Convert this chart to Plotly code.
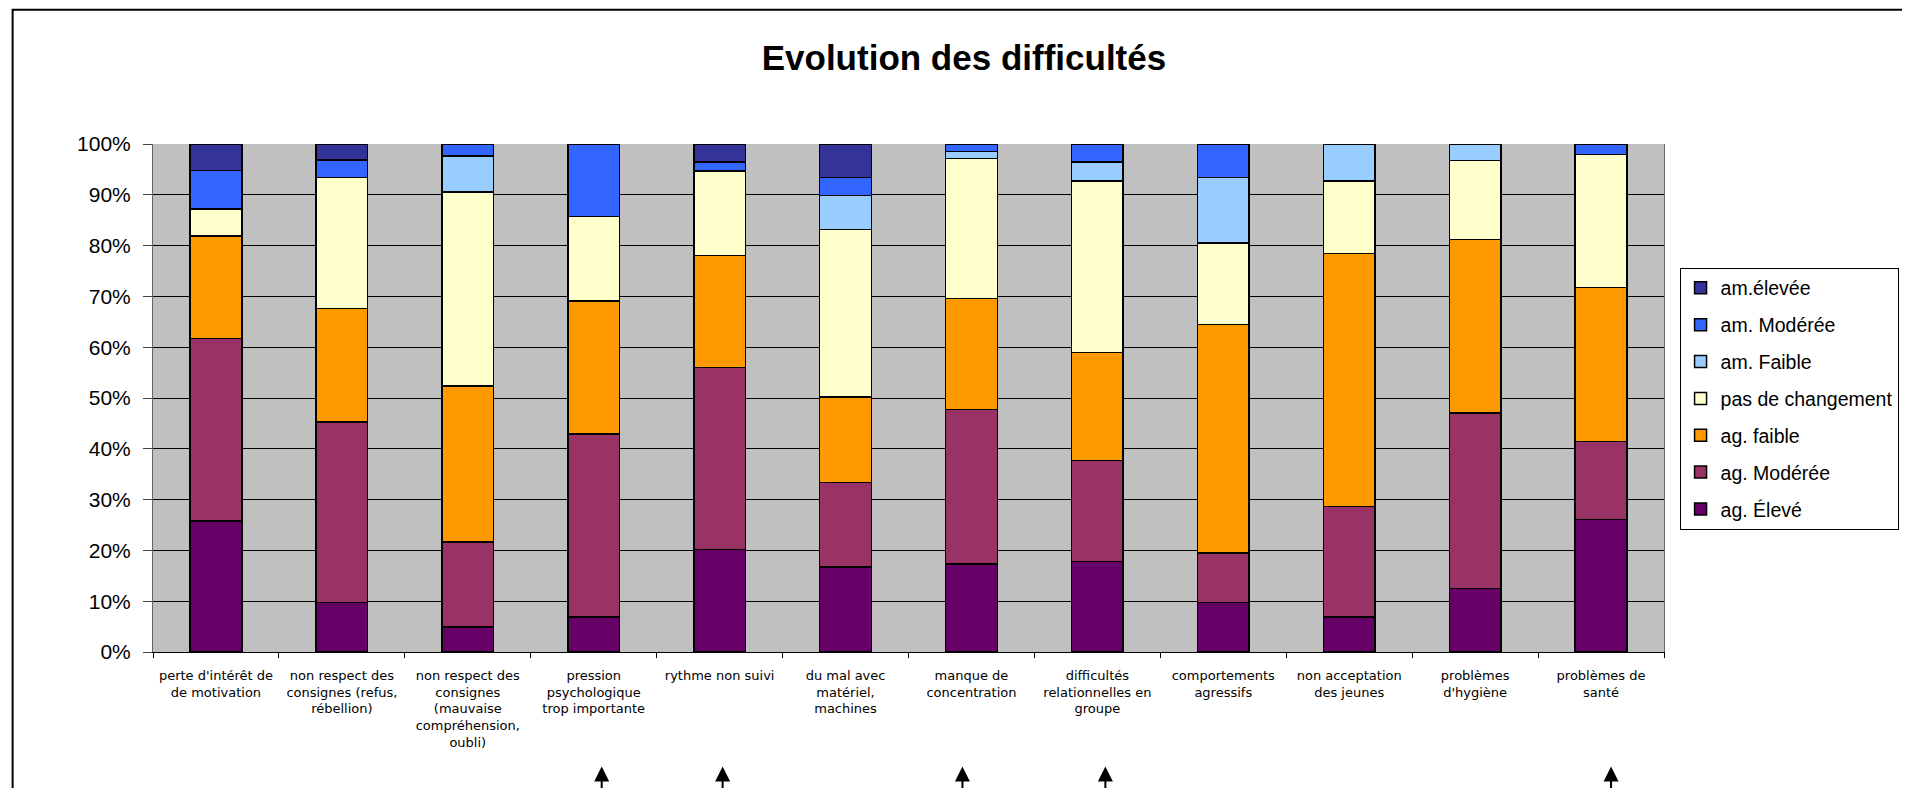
import plotly.graph_objects as go

categories = [
    "perte d'intérêt de<br>de motivation",
    "non respect des<br>consignes (refus,<br>rébellion)",
    "non respect des<br>consignes<br>(mauvaise<br>compréhension,<br>oubli)",
    "pression<br>psychologique<br>trop importante",
    "rythme non suivi",
    "du mal avec<br>matériel,<br>machines",
    "manque de<br>concentration",
    "difficultés<br>relationnelles en<br>groupe",
    "comportements<br>agressifs",
    "non acceptation<br>des jeunes",
    "problèmes<br>d'hygiène",
    "problèmes de<br>santé",
]

ag_eleve = [25.8, 9.7, 4.9, 6.9, 20.2, 16.7, 17.4, 17.8, 9.7, 6.9, 12.5, 26.1]
ag_moderee = [35.9, 35.6, 16.8, 36.0, 35.8, 16.7, 30.4, 19.9, 9.8, 21.7, 34.5, 15.3]
ag_faible = [20.2, 22.3, 30.7, 26.1, 22.1, 16.8, 21.9, 21.2, 45.0, 49.8, 34.2, 30.4]
pas_de_changement = [5.3, 25.8, 38.2, 16.6, 16.6, 33.0, 27.6, 33.7, 16.0, 14.3, 15.6, 26.1]
am_faible = [0, 0, 7.1, 0, 0, 6.7, 1.4, 3.8, 12.9, 7.3, 3.2, 0]
am_moderee = [7.6, 3.5, 2.4, 14.3, 1.8, 3.5, 1.5, 3.5, 6.6, 0, 0, 2.1]
am_elevee = [5.2, 3.1, 0, 0, 3.5, 6.6, 0, 0, 0, 0, 0, 0]

series_names = ["ag. Élevé", "ag. Modérée", "ag. faible", "pas de changement",
                "am. Faible", "am. Modérée", "am.élevée"]
series_values = [ag_eleve, ag_moderee, ag_faible, pas_de_changement,
                 am_faible, am_moderee, am_elevee]
series_colors = ["#660066", "#993366", "#FF9900", "#FFFFCC",
                 "#99CCFF", "#3366FF", "#333399"]

y_ticks = [0, 10, 20, 30, 40, 50, 60, 70, 80, 90, 100]
y_tick_labels = ["0%", "10%", "20%", "30%", "40%", "50%",
                 "60%", "70%", "80%", "90%", "100%"]

# arrows drawn below some categories (category index, small horizontal shift in px)
arrow_categories = [3, 4, 6, 7, 11]
arrow_shifts = [8, 3, -9, 8, 10]

FONT = "Liberation Sans, Arial, sans-serif"
XFONT = "DejaVu Sans, Liberation Sans, sans-serif"

fig = go.Figure()
n = len(series_names)
for i, (name, vals, col) in enumerate(zip(series_names, series_values, series_colors)):
    fig.add_trace(go.Bar(
        x=categories, y=vals, name=name, legendgroup=name, legendrank=n - i,
        marker=dict(color=col, line=dict(color="black", width=1.5)),
    ))

annotations = []
for idx, sh in zip(arrow_categories, arrow_shifts):
    annotations.append(dict(
        x=categories[idx], xref="x", y=-0.2256, yref="paper", xshift=sh,
        text="", showarrow=True, ax=0, ay=40, axref="pixel", ayref="pixel",
        arrowhead=2, arrowsize=1.5, arrowwidth=2, arrowcolor="black",
        standoff=0,
    ))

fig.update_layout(
    width=1910, height=788,
    barmode="stack", barnorm="percent", bargap=0.59,
    paper_bgcolor="white", plot_bgcolor="#C0C0C0",
    margin=dict(l=144.5, r=253.5, t=135.5, b=144, pad=0, autoexpand=False),
    font=dict(family=FONT, color="black", size=14),
    title=dict(text="<b>Evolution des difficultés</b>", xref="container", x=0.5005,
               xanchor="center", yref="container", y=0.9366, yanchor="middle",
               font=dict(family=FONT, size=35, color="black")),
    legend=dict(x=1.0103, xanchor="left", y=0.7565, yanchor="top",
                bgcolor="white", bordercolor="black", borderwidth=1,
                font=dict(family=FONT, size=19.5, color="black"),
                traceorder="grouped", tracegroupgap=8.5),
    xaxis=dict(type="category", showgrid=False, showline=True, linecolor="black",
               linewidth=1, ticks="outside", tickson="boundaries", ticklen=5,
               tickcolor="black", tickangle=0, automargin=False,
               ticklabelstandoff=11,
               tickfont=dict(family=XFONT, size=13, color="black")),
    yaxis=dict(range=[0, 100], tickvals=y_ticks, ticktext=y_tick_labels, showgrid=True,
               gridcolor="black", gridwidth=1, showline=True, linecolor="#666666",
               linewidth=1, mirror=True, ticks="outside", ticklen=9, tickcolor="#444444",
               ticklabelstandoff=8, zeroline=False, automargin=False,
               tickfont=dict(family=FONT, size=21, color="black")),
    annotations=annotations,
    shapes=[dict(type="rect", xref="paper", yref="paper",
                 x0=-0.0929, x1=1.4, y0=-0.6, y1=1.2645,
                 line=dict(color="black", width=2), fillcolor="rgba(0,0,0,0)",
                 layer="below")],
)

fig.write_html("out.html")
